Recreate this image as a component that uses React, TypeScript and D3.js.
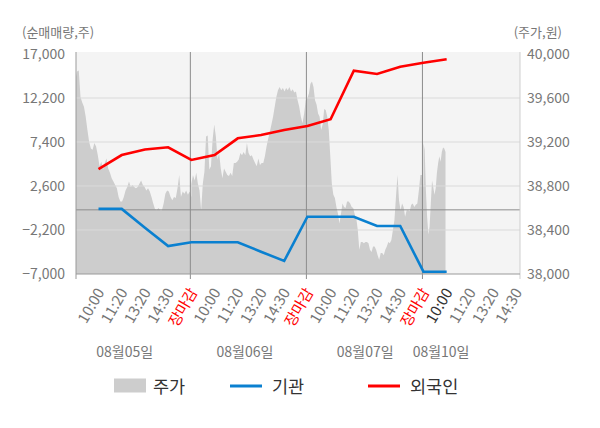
import React from 'react';
import * as d3 from 'd3';

// x-axis slots: 5 per day, the last day only has 4
const tickLabels = [
  '10:00', '11:20', '13:20', '14:30', '장마감',
  '10:00', '11:20', '13:20', '14:30', '장마감',
  '10:00', '11:20', '13:20', '14:30', '장마감',
  '10:00', '11:20', '13:20', '14:30',
];
const dayLabels = ['08월05일', '08월06일', '08월07일', '08월10일'];
const dayLabelPos = [1.13, 6.31, 11.49, 14.76];

// 외국인 / 기관 net buying (shares), one value per slot
const foreign = [
  4450, 5980, 6580, 6820, 5440, 5980, 7800, 8160, 8710, 9150,
  9880, 15180, 14820, 15610, 16050, 16420,
];
const institution = [
  100, 100, -1950, -3950, -3540, -3540, -3540, -4570, -5580, -750,
  -750, -750, -1760, -1760, -6750, -6750,
];

// 주가 intraday samples per day (won)
const priceDay1 = [
  39760, 39840, 39850, 39610, 39560, 39520, 39430, 39310, 39200, 39140,
  39130, 39190, 39160, 39080, 38980, 39020, 38950, 39010, 39050, 38960,
  38920, 38870, 38840, 38810, 38780, 38700, 38660, 38660, 38700, 38760,
  38790, 38840, 38790, 38810, 38790, 38780, 38790, 38820, 38850, 38810,
  38790, 38760, 38780, 38750, 38700, 38640, 38590, 38580, 38600, 38580,
  38580, 38640, 38730, 38760, 38750, 38700, 38670, 38700, 38690, 38780,
  38900, 38700, 38750, 38730, 38760, 38720, 38750, 38700,
];
const priceDay2 = [
  38820, 38900, 38850, 38920, 38820, 38760, 38580, 38820, 38930, 39250,
  39260, 38950, 38980, 39220, 39360, 39250, 39040, 39100, 38960, 38870,
  38960, 38930, 38900, 38890, 38920, 38890, 39010, 39010, 39020, 39040,
  39100, 39080, 39110, 39080, 39190, 39100, 39070, 39080, 39040, 39010,
  38980, 39050, 38990, 39010, 39010, 39070, 39160, 39230, 39290, 39360,
  39430, 39520, 39610, 39670, 39700, 39670, 39690, 39660, 39690, 39670,
  39700, 39660, 39680, 39650, 39660, 39580, 39520, 39430, 39370, 39460,
  39580, 39600,
];
const priceDay3 = [
  39600, 39640, 39730, 39750, 39700, 39580, 39540, 39460, 39430, 39310,
  39360, 39500, 39490, 39430, 39310, 39070, 38820, 38720, 38690, 38610,
  38550, 38460, 38550, 38640, 38610, 38600, 38660, 38660, 38640, 38610,
  38600, 38540, 38510, 38400, 38220, 38290, 38290, 38280, 38290, 38290,
  38280, 38220, 38200, 38250, 38250, 38220, 38170, 38130, 38190, 38190,
  38170, 38220, 38250, 38290, 38280, 38310, 38400, 38490, 38700, 38900,
  38670, 38580, 38640, 38610, 38520, 38580, 38580, 38570, 38630, 38640,
  38610, 38630, 38640, 38760, 38900, 38900, 38790,
];
const priceDay4 = [
  39190, 39130, 38760, 38520, 38360, 38430, 38640, 38850, 38790, 38720,
  38780, 38920, 39010, 39070, 39020, 39110, 39150, 39140, 39110,
];
// slot range each day's samples cover
const priceDays = [
  { values: priceDay1, from: -1, to: 4 },
  { values: priceDay2, from: 4, to: 9 },
  { values: priceDay3, from: 9, to: 14 },
  { values: priceDay4, from: 14, to: 14.95 },
];

const leftTicks = [-7000, -2200, 2600, 7400, 12200, 17000];
const rightTicks = [38000, 38400, 38800, 39200, 39600, 40000];
const daySeparators = [4, 9, 14];

const W = 600;
const H = 428;
const left = 76;
const right = 520;
const top = 54;
const bottom = 274;
const FONT = '"Noto Sans CJK KR", "Noto Sans", sans-serif';

export default function App() {
  const x = d3.scaleLinear().domain([-0.97, 18.16]).range([left, right]);
  const yL = d3.scaleLinear().domain([-7000, 17000]).range([bottom, top]);
  const yR = d3.scaleLinear().domain([38000, 40000]).range([bottom, top]);

  const pricePoints: [number, number][] = [];
  priceDays.forEach(day => {
    const n = day.values.length;
    day.values.forEach((v, i) => {
      pricePoints.push([day.from + ((day.to - day.from) * i) / (n - 1), v]);
    });
  });

  const area = d3.area<[number, number]>()
    .x(d => x(d[0]))
    .y0(bottom)
    .y1(d => yR(d[1]));

  const line = d3.line<number>()
    .x((_, i) => x(i))
    .y(d => yL(d));

  const fmt = d3.format(',');

  return (
    <svg width={W} height={H} style={{ position: 'absolute', left: 0, top: 0 }} fontFamily={FONT}>
      <defs>
        <clipPath id="plot">
          <rect x={left} y={52} width={right - left} height={bottom - 52} />
        </clipPath>
      </defs>
      <rect x={left} y={52} width={right - left} height={bottom - 52} fill="#f4f4f4" />

      <g clipPath="url(#plot)">
        <path d={area(pricePoints) ?? ''} fill="#cdcdcd" />
      </g>

      {leftTicks.slice(1, -1).map(t => (
        <line key={t} x1={left} x2={right} y1={yL(t)} y2={yL(t)} stroke="#dadada" strokeWidth={1} />
      ))}
      <line x1={left} x2={right} y1={yL(0)} y2={yL(0)} stroke="#8c8c8c" strokeWidth={1} />

      {daySeparators.map(d => (
        <line key={d} x1={x(d) - 1} x2={x(d) - 1} y1={52} y2={bottom + 5} stroke="#8c8c8c" strokeWidth={1} />
      ))}

      <line x1={left} x2={left} y1={52} y2={bottom + 5} stroke="#9a9a9a" />
      <line x1={right} x2={right} y1={52} y2={bottom + 5} stroke="#cfcfcf" />
      <line x1={left} x2={right} y1={bottom} y2={bottom} stroke="#9a9a9a" />

      <path d={line(institution) ?? ''} fill="none" stroke="#0a80d0" strokeWidth={2.6} />
      <path d={line(foreign) ?? ''} fill="none" stroke="#ff0000" strokeWidth={2.6} />

      {leftTicks.map(t => (
        <text key={t} x={65} y={yL(t)} dy="0.35em" textAnchor="end" fontSize={14} fill="#777">
          {fmt(t)}
        </text>
      ))}
      {rightTicks.map(t => (
        <text key={t} x={527} y={yR(t)} dy="0.35em" fontSize={14} fill="#777">
          {fmt(t)}
        </text>
      ))}
      <text x={22} y={37} fontSize={13} fill="#777">(순매매량,주)</text>
      <text x={562} y={37} textAnchor="end" fontSize={13} fill="#777">(주가,원)</text>

      {tickLabels.map((t, i) => (
        <text
          key={i}
          transform={`translate(${x(i) + 6.5},${bottom + 18}) rotate(-60)`}
          textAnchor="end"
          fontSize={15}
          fill={t === '장마감' ? '#ff0000' : i === 15 ? '#333' : '#777'}
        >
          {t}
        </text>
      ))}
      {dayLabels.map((t, i) => (
        <text key={t} x={x(dayLabelPos[i])} y={357} textAnchor="middle" fontSize={14} fill="#777">
          {t}
        </text>
      ))}

      <g fontSize={17.5} fill="#333">
        <rect x={114} y={378.5} width={32} height={14} fill="#cdcdcd" />
        <text x={153} y={386.5} dy="0.35em">주가</text>
        <line x1={230} x2={262} y1={386} y2={386} stroke="#0a80d0" strokeWidth={3} />
        <text x={272} y={386.5} dy="0.35em">기관</text>
        <line x1={368} x2={400} y1={386} y2={386} stroke="#ff0000" strokeWidth={3} />
        <text x={410} y={386.5} dy="0.35em">외국인</text>
      </g>
    </svg>
  );
}
